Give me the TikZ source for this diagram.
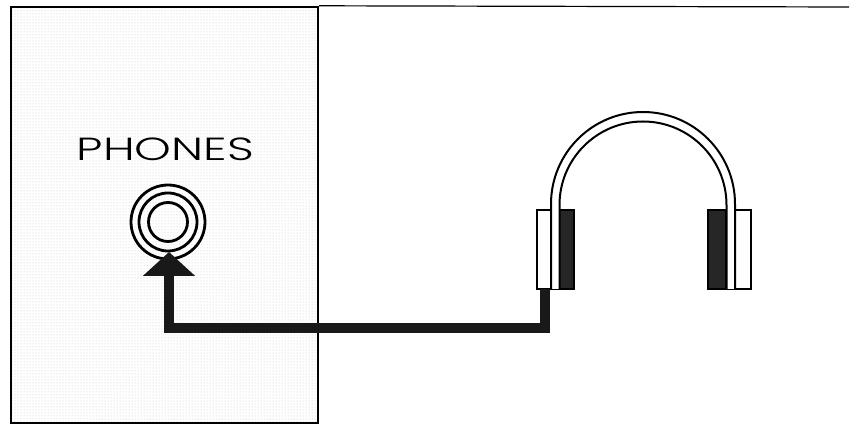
\documentclass[tikz,border=0pt]{standalone}
\usepackage{fontspec}
\newfontfamily\labelfont{Poppins}[UprightFont=* Light]
\usetikzlibrary{arrows.meta,patterns}
\tikzset{
  panelbox/.style={draw, line width=2.4pt, pattern=dots, pattern color=black!22, minimum width=307pt, minimum height=416pt, inner sep=0pt},
  ring/.style={circle, draw, line width=2.8pt, inner sep=0pt},
  padbox/.style={draw, line width=1.6pt, fill=black!85, minimum height=79pt, inner sep=0pt},
  shellbox/.style={draw, line width=1.6pt, fill=white, minimum height=79pt, inner sep=0pt},
  cable/.style={line width=10.5pt, black!90, -{Triangle[length=24pt,width=51pt]}},
  bandline/.style={line width=2pt}
}
\begin{document}
\begin{tikzpicture}[x=1pt, y=1pt]
  \useasboundingbox (0,0) rectangle (856,425);

  % Panel
  \node[panelbox] (panel) at (164.5,210) {};
  \coordinate (topend) at (849,418);
  \draw[line width=1.2pt] (panel.north east) -- (topend);
  \node[font=\labelfont\fontsize{32}{32}\selectfont, xscale=1.46] (phones) at (165.5,276) {PHONES};

  % Jack
  \node[ring, minimum size=74pt] (jackouter) at (168,203) {};
  \node[ring, minimum size=58pt] (jackmiddle) at (168,203) {};
  \node[ring, minimum size=39pt] (jackinner) at (168,203) {};

  % Left cup
  \node[padbox, minimum width=22pt] (leftpad) at (563,175.5) {};
  \node[shellbox, minimum width=22pt] (leftshell) at (548,175.5) {};
  % Right cup
  \node[padbox, minimum width=22pt] (rightpad) at (719,175.5) {};
  \node[shellbox, minimum width=25pt] (rightshell) at (738.5,175.5) {};

  % Band
  \fill[white] (551,136) -- (551,221) arc[start angle=180, end angle=0, radius=92]
    -- (735,136) -- (726.5,136) -- (726.5,220) arc[start angle=0, end angle=180, radius=83.5]
    -- (559.5,136) -- cycle;
  \draw[bandline] (551,136) -- (551,221) arc[start angle=180, end angle=0, radius=92] -- (735,136);
  \draw[bandline] (559.5,136) -- (559.5,220) arc[start angle=180, end angle=0, radius=83.5] -- (726.5,136);

  % Cable
  \coordinate (plug) at (545,136);
  \coordinate (corner) at (169,97);
  \coordinate (tip) at (169,173);
  \draw[cable] (plug) -- (plug |- corner) -- (corner) -- (tip);
\end{tikzpicture}
\end{document}
